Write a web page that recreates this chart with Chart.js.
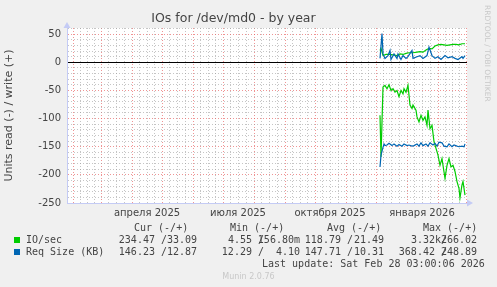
<!DOCTYPE html>
<html lang="ru">
<head>
<meta charset="UTF-8">
<title>IOs for /dev/md0 - by year</title>
<script src="https://cdn.jsdelivr.net/npm/chart.js"></script>
<style>
  body { margin: 0; background: #f0f0f0; }
  #wrap { position: relative; width: 497px; height: 287px; overflow: hidden; }
  #chart { position: absolute; left: 0; top: 0; }
  .t { position: absolute; font: 10px/12px 'DejaVu Sans Mono', monospace; color: #444; white-space: pre; }
  .r { text-align: right; width: 120px; }
  .sw { position: absolute; width: 6px; height: 6px; }
  #rrd { position: absolute; left: 483px; top: 5px; writing-mode: vertical-rl; font: 7.5px 'DejaVu Sans', sans-serif; color: #c8c8c8; }
  #munin { position: absolute; left: 0; width: 497px; top: 272px; text-align: center; font: 8px/10px 'DejaVu Sans', sans-serif; color: #c8c8c8; }
</style>
</head>
<body>
<div id="wrap">
  <canvas id="chart" width="497" height="287"></canvas>
  <div id="rrd">RRDTOOL / TOBI OETIKER</div>
  <div id="munin">Munin 2.0.76</div>
</div>
<script>
// time axis: days counted from 26 Jan 2025 (left edge of the plot), 400 days wide
const DAY = 864e5;
const axisStart = Date.UTC(2025, 0, 26);
const axisDays = 400;
const dayOf = (y, m, d) => (Date.UTC(y, m, d) - axisStart) / DAY;

const monthLabels = ['апреля 2025', 'июля 2025', 'октября 2025', 'января 2026'];
const monthLabelDays = [dayOf(2025, 3, 16), dayOf(2025, 6, 16), dayOf(2025, 9, 16), dayOf(2026, 0, 16)];

const yLabelValues = [50, 0, -50, -100, -150, -200, -250];
const yMin = -250, yMax = 61, yStep = 10;

// IO/sec, read (drawn negative) and write
const ioReadDays = [313, 314, 316, 318, 320, 322, 324, 326, 328, 330, 332, 334, 336, 337, 339, 341, 343, 345, 346, 349,
  350, 352, 354, 356, 358, 360, 361, 363, 365, 367, 369, 371, 373, 375, 376, 378, 380, 382, 384, 386,
  388, 390, 392, 393, 395, 396, 398];
const ioRead = [-94, -168, -44, -41, -47, -40, -50, -47, -53, -50, -61, -50, -56, -47, -53, -41, -76, -82, -76, -85,
  -97, -106, -94, -103, -97, -112, -85, -118, -112, -141, -153, -165, -183, -171, -183, -206, -183, -171, -186, -183,
  -194, -212, -224, -241, -218, -212, -236];
const ioWriteDays = [313, 314, 316, 319, 323, 327, 330, 333, 336, 339, 342, 346, 350, 353, 356, 359, 362, 365, 368, 371,
  374, 377, 380, 383, 386, 389, 392, 395, 398];
const ioWrite = [21, 25, 12, 14, 14, 13, 12, 15, 14, 16, 17, 17, 18, 19, 18, 22, 25, 24, 29, 31,
  32, 31, 30, 31, 32, 32, 31, 33, 33];

// Req Size (KB), read (drawn negative) and write
const reqReadDays = [313, 314, 316, 317, 318, 320, 322, 325, 327, 330, 332, 335, 337, 340, 342, 345, 347, 350, 352, 354,
  356, 359, 361, 363, 366, 368, 370, 372, 375, 377, 380, 382, 385, 387, 390, 392, 395, 397, 398];
const reqRead = [-186, -165, -151, -145, -148, -147, -144, -148, -145, -149, -146, -149, -145, -148, -147, -149, -148, -145, -149, -143,
  -148, -145, -149, -143, -147, -144, -149, -142, -143, -149, -150, -145, -150, -147, -149, -150, -149, -150, -145];
const reqWriteDays = [313, 315, 316, 318, 321, 323, 324, 327, 330, 331, 334, 336, 339, 341, 345, 346, 350, 353, 356, 360,
  362, 365, 368, 371, 374, 378, 381, 385, 388, 391, 395, 396, 398];
const reqWrite = [7, 51, 15, 7, 12, 21, 5, 15, 7, 15, 5, 12, 7, 10, 21, 7, 10, 12, 7, 12,
  27, 12, 7, 10, 5, 12, 8, 10, 7, 5, 10, 7, 12];

// legend values: [read, write]
const ioCur = ['234.47', '33.09'], ioMin = ['4.55', '156.80m'], ioAvg = ['118.79', '21.49'], ioMax = ['3.32k', '266.02'];
const reqCur = ['146.23', '12.87'], reqMin = ['12.29', '4.10'], reqAvg = ['147.71', '10.31'], reqMax = ['368.42', '248.89'];
const lastUpdate = 'Last update: Sat Feb 28 03:00:06 2026';

const green = '#00cc00', blue = '#0066b3';
const gridMajor = 'rgba(230, 90, 90, 0.65)', gridMinor = 'rgba(150, 150, 150, 0.55)';
const axisColor = '#c4cbf5';

// month lines (red) and quarter-month lines (grey)
const monthStarts = [];
const quarterLines = [];
for (let k = 0; k <= 14; k++) {
  const a = dayOf(2025, k, 1), b = dayOf(2025, k + 1, 1);
  if (a >= 0 && a <= axisDays) monthStarts.push(a);
  for (let q = 1; q < 4; q++) {
    const v = a + (b - a) * q / 4;
    if (v > 0 && v < axisDays) quarterLines.push(v);
  }
}
const xGrid = monthStarts.concat(quarterLines).sort((a, b) => a - b);
const yGrid = [];
for (let v = yMin; v <= yMax; v += yStep) yGrid.push(v);

const pts = (days, vals) => days.map((d, i) => ({x: d, y: vals[i]}));

const frame = {
  id: 'frame',
  beforeDraw(chart) {
    const {ctx, chartArea: a} = chart;
    ctx.save();
    ctx.fillStyle = '#fff';
    ctx.fillRect(a.left, a.top, a.right - a.left, a.bottom - a.top);
    ctx.restore();
  },
  afterDraw(chart) {
    const {ctx, chartArea: a} = chart;
    ctx.save();
    ctx.fillStyle = axisColor;
    ctx.beginPath();
    ctx.moveTo(a.left - 3.5, a.top); ctx.lineTo(a.left + 3.5, a.top); ctx.lineTo(a.left, a.top - 6);
    ctx.fill();
    ctx.beginPath();
    ctx.moveTo(a.right, a.bottom - 3.5); ctx.lineTo(a.right, a.bottom + 3.5); ctx.lineTo(a.right + 6, a.bottom);
    ctx.fill();
    ctx.restore();
  }
};

new Chart(document.getElementById('chart'), {
  type: 'line',
  data: {
    datasets: [
      {data: pts(reqReadDays, reqRead), borderColor: blue},
      {data: pts(reqWriteDays, reqWrite), borderColor: blue},
      {data: pts(ioReadDays, ioRead), borderColor: green},
      {data: pts(ioWriteDays, ioWrite), borderColor: green}
    ]
  },
  options: {
    responsive: false,
    animation: false,
    events: [],
    layout: {padding: {left: 0, right: 30, top: 0, bottom: 0}},
    elements: {
      line: {borderWidth: 1.2, tension: 0, fill: false},
      point: {radius: 0}
    },
    plugins: {
      legend: {display: false},
      tooltip: {enabled: false},
      title: {
        display: true,
        text: 'IOs for /dev/md0 - by year',
        color: '#444',
        font: {family: 'DejaVu Sans', size: 12.5, weight: 'normal'},
        padding: {top: 11, bottom: 2}
      }
    },
    scales: {
      x: {
        type: 'linear', min: 0, max: axisDays, weight: 0,
        afterBuildTicks: s => { s.ticks = xGrid.map(v => ({value: v})); },
        afterFit: s => { s.height = 0; },
        ticks: {display: false, autoSkip: false},
        grid: {
          drawTicks: false,
          color: c => monthStarts.includes(c.tick.value) ? gridMajor : gridMinor
        },
        border: {color: axisColor, dash: [1, 2]}
      },
      xl: {
        type: 'linear', position: 'bottom', min: 0, max: axisDays, weight: 1,
        afterBuildTicks: s => { s.ticks = monthLabelDays.map(v => ({value: v})); },
        afterFit: s => { s.height = 84; },
        ticks: {
          autoSkip: false, maxRotation: 0, padding: 4, color: '#444',
          font: {family: 'DejaVu Sans', size: 10},
          callback: (v, i) => monthLabels[i]
        },
        grid: {display: false, drawTicks: false},
        border: {display: false}
      },
      y: {
        min: yMin, max: yMax,
        afterBuildTicks: s => { s.ticks = yGrid.map(v => ({value: v})); },
        afterFit: s => { s.width = 67; },
        ticks: {
          autoSkip: false, padding: 6, color: '#444',
          font: {family: 'DejaVu Sans', size: 10},
          callback: v => yLabelValues.includes(v) ? String(v) : ''
        },
        grid: {
          drawTicks: false,
          color: c => c.tick.value === 0 ? '#000' : (c.tick.value % 50 === 0 ? gridMajor : gridMinor)
        },
        border: {color: axisColor, dash: c => (c.tick && c.tick.value === 0) ? [] : [1, 2]},
        title: {
          display: true,
          text: 'Units read (-) / write (+)',
          color: '#444',
          font: {family: 'DejaVu Sans', size: 11},
          padding: {top: 3, bottom: 0}
        }
      }
    }
  },
  plugins: [frame]
});

// legend table under the plot
const wrap = document.getElementById('wrap');
function text(str, x, yc, right) {
  const d = document.createElement('div');
  d.className = right ? 't r' : 't';
  d.textContent = str;
  d.style.left = (right ? x - 120 : x) + 'px';
  d.style.top = (yc - 6) + 'px';
  wrap.appendChild(d);
}
const headLeft = [134, 230, 327, 423];
const readRight = [167, 264, 353, 447];
const writeRight = [197, 300, 384, 477];
['Cur (-/+)', 'Min (-/+)', 'Avg (-/+)', 'Max (-/+)'].forEach((h, i) => text(h, headLeft[i], 228));
const rows = [
  {name: 'IO/sec', color: green, vals: [ioCur, ioMin, ioAvg, ioMax], y: 240},
  {name: 'Req Size (KB)', color: blue, vals: [reqCur, reqMin, reqAvg, reqMax], y: 252}
];
rows.forEach(r => {
  const sw = document.createElement('div');
  sw.className = 'sw';
  sw.style.background = r.color;
  sw.style.left = '14px';
  sw.style.top = (r.y - 3) + 'px';
  wrap.appendChild(sw);
  text(r.name, 26, r.y);
  r.vals.forEach((v, i) => {
    const rd = v[0] + (/[a-z]$/i.test(v[0]) ? '' : ' ') + '/';
    text(rd, readRight[i], r.y, true);
    text(v[1], writeRight[i], r.y, true);
  });
});
text(lastUpdate, 262, 264);
</script>
</body>
</html>
